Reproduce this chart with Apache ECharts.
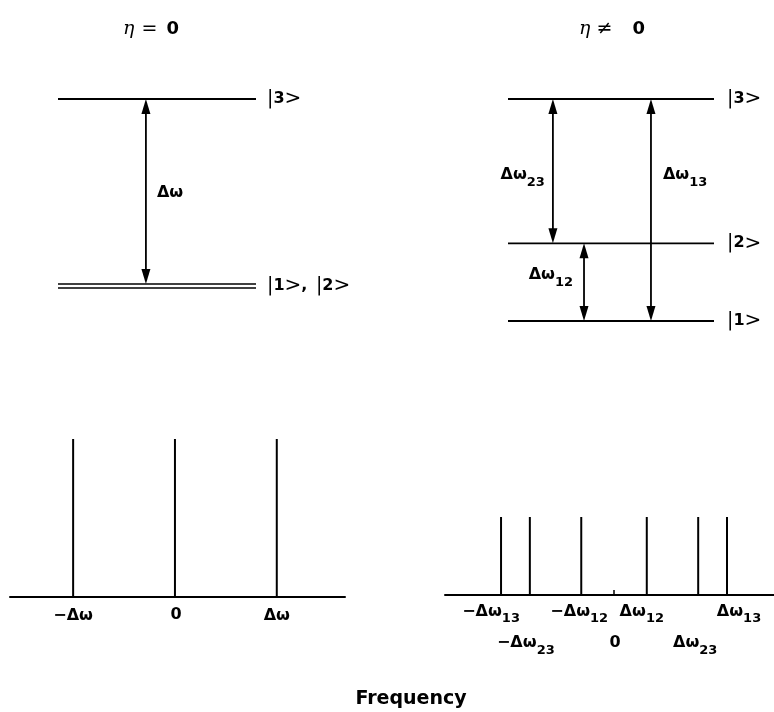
<!DOCTYPE html>
<html>
<head>
<meta charset="utf-8">
<script src="https://cdn.jsdelivr.net/npm/echarts@6/dist/echarts.min.js"></script>
<style>html,body{margin:0;padding:0;background:#fff}#c{width:774px;height:712px}</style>
</head>
<body>
<div id="c"></div>
<script>
// ---------------- data ----------------
// energy level diagram, eta = 0 (|1> and |2> degenerate)
const statesA = ['|1>', '|2>', '|3>'];
const energiesA = [0, 0, 1];
const transitionsA = [[0, 2]];              // [lower index, upper index]
const transitionLabelsA = ['Δω'];

// energy level diagram, eta != 0
const statesB = ['|1>', '|2>', '|3>'];
const energiesB = [0, 0.35, 1];
const transitionsB = [[1, 2], [0, 1], [0, 2]];
const transitionLabelsB = ['Δω23', 'Δω12', 'Δω13'];

// spectrum, eta = 0
const freqA = [-1, 0, 1];
const intensA = [1, 1, 1];
const tickValuesA = [-1, 0, 1];
const tickLabelsA = ['−Δω', '0', 'Δω'];

// spectrum, eta != 0
const freqB = [-1, -0.745, -0.29, 0.29, 0.745, 1];
const intensB = [0.5, 0.5, 0.5, 0.5, 0.5, 0.5];
const tickValuesB = [-1, -0.745, -0.29, 0, 0.29, 0.745, 1];
const tickLabelsB = ['−Δω13', '−Δω23', '−Δω12', '0', 'Δω12', 'Δω23', 'Δω13'];

const titleA = 'η = 0';
const titleB = 'η ≠ 0';
const xTitle = 'Frequency';

// ---------------- layout / style ----------------
const FONT = '"DejaVu Sans", "Liberation Sans", Arial, sans-serif';
const layout = {
  arrowXA: [0.444],
  arrowXB: [0.218, 0.369, 0.694],
  arrowLabelA: [{side: 'right', gap: 11, dy: 2}],
  arrowLabelB: [{side: 'left', gap: 8, dy: 5}, {side: 'left', gap: 11, dy: -6}, {side: 'right', gap: 12, dy: -34}],
  tickA: [{dx: 0, dy: 20}, {dx: 1, dy: 19}, {dx: 0, dy: 20}],
  tickB: [{dx: -10, dy: 17.5}, {dx: -4, dy: 49}, {dx: -2, dy: 17.5}, {dx: 1, dy: 48.5},
          {dx: -5, dy: 17.5}, {dx: -3, dy: 49}, {dx: 12, dy: 17.5}]
};

const mainRich = {
  m: {fontFamily: FONT, fontWeight: 'bold', fontSize: 16, lineHeight: 18, verticalAlign: 'top', fill: '#000'},
  s: {fontFamily: FONT, fontWeight: 'bold', fontSize: 13, lineHeight: 14, padding: [9, 0, 0, 0], verticalAlign: 'top', fill: '#000'}
};
function fmt(t) {
  const m = t.match(/^(.*?)(\d\d)$/);
  return m ? '{m|' + m[1] + '}{s|' + m[2] + '}' : '{m|' + t + '}';
}
const ketRich = {
  bar: {fontFamily: '"DejaVu Sans"', fontSize: 19, lineHeight: 22, fill: '#000'},
  dig: {fontFamily: FONT, fontWeight: 'bold', fontSize: 16, lineHeight: 22, fill: '#000'},
  gt: {fontFamily: '"DejaVu Sans"', fontSize: 20, lineHeight: 22, fill: '#000'},
  sep: {fontFamily: FONT, fontWeight: 'bold', fontSize: 16, lineHeight: 22, padding: [0, 3, 0, 0], fill: '#000'}
};
function ket(name) {
  const d = name.replace(/[|>]/g, '');
  return '{bar||}{dig|' + d + '}{gt|>}';
}
function ketList(names) { return names.map(ket).join('{sep|, }'); }

// group degenerate levels
function groupLevels(states, energies) {
  const groups = [];
  energies.forEach((e, i) => {
    let g = groups.find(gg => gg.E === e);
    if (!g) { g = {E: e, names: []}; groups.push(g); }
    g.names.push(states[i]);
  });
  return groups;
}
const groupsA = groupLevels(statesA, energiesA);
const groupsB = groupLevels(statesB, energiesB);
function countAt(groups, e) { return groups.find(g => g.E === e).names.length; }

const LW = 1.8, SP = 4;

function renderLevels(groups, labelDx) {
  return function (params, api) {
    const g = groups[params.dataIndex];
    const E = api.value(0);
    const a = api.coord([0, E]), b = api.coord([1, E]);
    const n = g.names.length;
    const kids = [];
    for (let k = 0; k < n; k++) {
      const off = (k - (n - 1) / 2) * SP;
      kids.push({type: 'line', shape: {x1: a[0], y1: a[1] + off, x2: b[0], y2: b[1] + off},
        style: {stroke: '#000', lineWidth: n > 1 ? 1.5 : LW}});
    }
    kids.push({type: 'text', x: b[0] + labelDx, y: b[1],
      style: {text: ketList(g.names), rich: ketRich, align: 'left', verticalAlign: 'middle'}});
    return {type: 'group', children: kids};
  };
}

function renderArrows(groups, xs, labels, labelLay) {
  return function (params, api) {
    const i = params.dataIndex;
    const lo = api.value(0), hi = api.value(1);
    const x = xs[i];
    const pLo = api.coord([x, lo]), pHi = api.coord([x, hi]);
    const nLo = countAt(groups, lo), nHi = countAt(groups, hi);
    const yB = pLo[1] - (nLo - 1) * SP / 2;
    const yT = pHi[1] + (nHi - 1) * SP / 2;
    const X = pLo[0], hw = 4.5, hl = 15;
    const lay = labelLay[i];
    const mid = (yB + yT) / 2 + lay.dy;
    const lx = lay.side === 'right' ? X + lay.gap : X - lay.gap;
    return {type: 'group', children: [
      {type: 'line', shape: {x1: X, y1: yT + 4, x2: X, y2: yB - 4}, style: {stroke: '#000', lineWidth: 1.8}},
      {type: 'polygon', shape: {points: [[X, yT], [X - hw, yT + hl], [X + hw, yT + hl]]}, style: {fill: '#000'}},
      {type: 'polygon', shape: {points: [[X, yB], [X - hw, yB - hl], [X + hw, yB - hl]]}, style: {fill: '#000'}},
      {type: 'text', x: lx, y: mid - 9, style: {text: fmt(labels[i]), rich: mainRich,
        align: lay.side === 'right' ? 'left' : 'right', verticalAlign: 'top'}}
    ]};
  };
}

function renderPeaks(params, api) {
  const f = api.value(0), I = api.value(1);
  const a = api.coord([f, 0]), b = api.coord([f, I]);
  return {type: 'line', shape: {x1: a[0], y1: a[1], x2: b[0], y2: b[1]}, style: {stroke: '#000', lineWidth: 2}};
}
function renderTicks(labels, lays) {
  return function (params, api) {
    const i = params.dataIndex;
    const p = api.coord([api.value(0), 0]);
    const lay = lays[i];
    return {type: 'text', x: p[0] + lay.dx, y: p[1] + lay.dy - 9,
      style: {text: fmt(labels[i]), rich: mainRich, align: 'center', verticalAlign: 'top'}};
  };
}

const hiddenAxis = (min, max, gi) => ({type: 'value', gridIndex: gi, min: min, max: max, show: false});
const specX = (min, max, gi, tickVals) => ({
  type: 'value', gridIndex: gi, min: min, max: max,
  axisLine: {show: true, onZero: false, lineStyle: {color: '#000', width: 2}},
  axisTick: tickVals ? {show: true, inside: true, length: 5, customValues: tickVals, lineStyle: {color: '#000', width: 1.5}} : {show: false},
  axisLabel: {show: false}, splitLine: {show: false}
});

const titleRich = (opPad) => ({
  e: {fontFamily: '"DejaVu Serif"', fontStyle: 'italic', fontSize: 19, fill: '#000'},
  o: {fontFamily: '"DejaVu Sans"', fontSize: 19, padding: opPad, fill: '#000'},
  z: {fontFamily: FONT, fontWeight: 'bold', fontSize: 18, fill: '#000'}
});
function titleText(t) {
  const p = t.split(' ');
  return '{e|' + p[0] + '}{o|' + p[1] + '}{z|' + p[2] + '}';
}

const option = {
  backgroundColor: '#fff',
  animation: false,
  grid: [
    {left: 58, top: 99, width: 198, height: 187},
    {left: 508, top: 99, width: 206, height: 222},
    {left: 10, top: 439, width: 335, height: 158},
    {left: 445, top: 439, width: 329, height: 156}
  ],
  xAxis: [
    hiddenAxis(0, 1, 0),
    hiddenAxis(0, 1, 1),
    specX(-1.62, 1.67, 2, null),
    specX(-1.496, 1.416, 3, [0])
  ],
  yAxis: [
    hiddenAxis(0, 1, 0),
    hiddenAxis(0, 1, 1),
    hiddenAxis(0, 1, 2),
    hiddenAxis(0, 1, 3)
  ],
  graphic: [
    {type: 'text', x: 151, y: 29, style: {text: titleText(titleA), align: 'center', verticalAlign: 'middle',
      rich: titleRich([0, 9, 0, 7])}},
    {type: 'text', x: 612, y: 29, style: {text: titleText(titleB), align: 'center', verticalAlign: 'middle',
      rich: titleRich([0, 20, 0, 6])}},
    {type: 'text', x: 411, y: 699, style: {text: xTitle, fill: '#000', align: 'center', verticalAlign: 'middle',
      font: 'bold 19px ' + FONT}}
  ],
  series: [
    {type: 'custom', xAxisIndex: 0, yAxisIndex: 0, renderItem: renderLevels(groupsA, 11),
      data: groupsA.map(g => [g.E, g.names.length]), encode: {y: 0}},
    {type: 'custom', xAxisIndex: 0, yAxisIndex: 0, renderItem: renderArrows(groupsA, layout.arrowXA, transitionLabelsA, layout.arrowLabelA),
      data: transitionsA.map(t => [energiesA[t[0]], energiesA[t[1]]]), encode: {y: [0, 1]}},
    {type: 'custom', xAxisIndex: 1, yAxisIndex: 1, renderItem: renderLevels(groupsB, 13),
      data: groupsB.map(g => [g.E, g.names.length]), encode: {y: 0}},
    {type: 'custom', xAxisIndex: 1, yAxisIndex: 1, renderItem: renderArrows(groupsB, layout.arrowXB, transitionLabelsB, layout.arrowLabelB),
      data: transitionsB.map(t => [energiesB[t[0]], energiesB[t[1]]]), encode: {y: [0, 1]}},
    {type: 'custom', xAxisIndex: 2, yAxisIndex: 2, renderItem: renderPeaks,
      data: freqA.map((f, i) => [f, intensA[i]])},
    {type: 'custom', xAxisIndex: 2, yAxisIndex: 2, renderItem: renderTicks(tickLabelsA, layout.tickA),
      data: tickValuesA.map(v => [v, 0])},
    {type: 'custom', xAxisIndex: 3, yAxisIndex: 3, renderItem: renderPeaks,
      data: freqB.map((f, i) => [f, intensB[i]])},
    {type: 'custom', xAxisIndex: 3, yAxisIndex: 3, renderItem: renderTicks(tickLabelsB, layout.tickB),
      data: tickValuesB.map(v => [v, 0])}
  ]
};
const chart = echarts.init(document.getElementById('c'));
chart.setOption(option);
</script>
</body>
</html>
